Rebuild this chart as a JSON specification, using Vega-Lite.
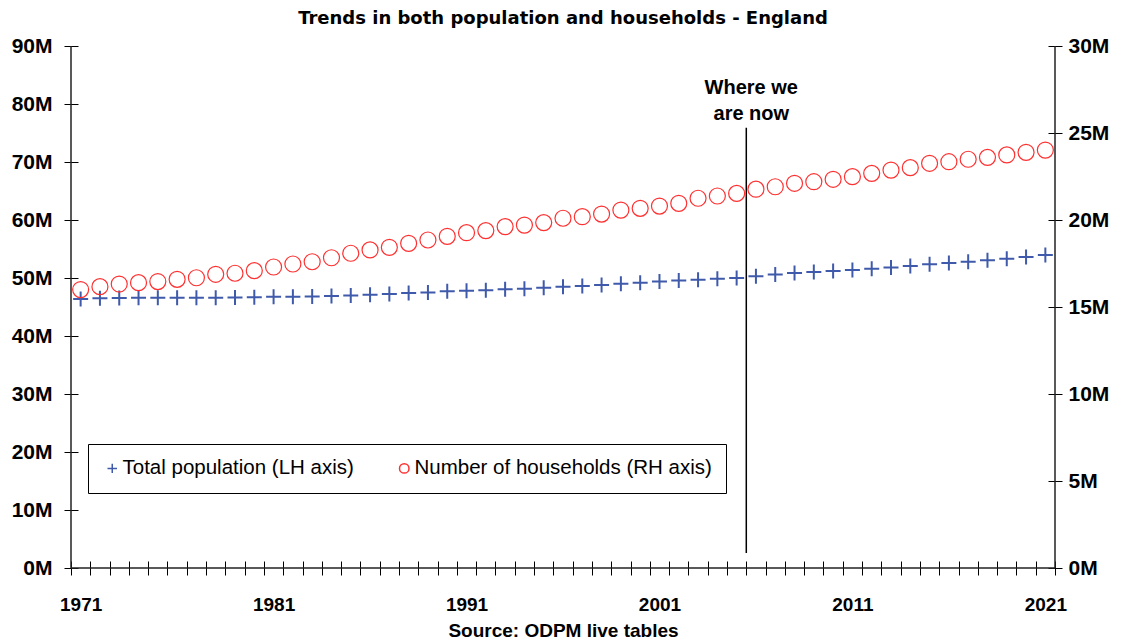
{
  "$schema": "https://vega.github.io/schema/vega-lite/v6.json",
  "width": 984,
  "height": 522,
  "autosize": "none",
  "padding": {"left": 71, "top": 46, "right": 66, "bottom": 72},
  "background": "white",
  "config": {
    "view": {"stroke": null},
    "axis": {
      "labelFont": "Liberation Sans",
      "labelFontWeight": "bold",
      "labelFontSize": 19,
      "labelColor": "black",
      "tickColor": "black",
      "tickWidth": 1,
      "grid": false
    }
  },
  "title": {
    "text": "Trends in both population and households - England",
    "font": "DejaVu Sans",
    "fontSize": 18,
    "fontWeight": "bold",
    "color": "black",
    "anchor": "middle",
    "offset": 7
  },
  "data": {
    "values": [
      {"year": 1971, "series": "Total population (LH axis)", "value": 46.4},
      {"year": 1972, "series": "Total population (LH axis)", "value": 46.5},
      {"year": 1973, "series": "Total population (LH axis)", "value": 46.55},
      {"year": 1974, "series": "Total population (LH axis)", "value": 46.6},
      {"year": 1975, "series": "Total population (LH axis)", "value": 46.6},
      {"year": 1976, "series": "Total population (LH axis)", "value": 46.6},
      {"year": 1977, "series": "Total population (LH axis)", "value": 46.6},
      {"year": 1978, "series": "Total population (LH axis)", "value": 46.6},
      {"year": 1979, "series": "Total population (LH axis)", "value": 46.65},
      {"year": 1980, "series": "Total population (LH axis)", "value": 46.7},
      {"year": 1981, "series": "Total population (LH axis)", "value": 46.75},
      {"year": 1982, "series": "Total population (LH axis)", "value": 46.75},
      {"year": 1983, "series": "Total population (LH axis)", "value": 46.8},
      {"year": 1984, "series": "Total population (LH axis)", "value": 46.9},
      {"year": 1985, "series": "Total population (LH axis)", "value": 47.0},
      {"year": 1986, "series": "Total population (LH axis)", "value": 47.1},
      {"year": 1987, "series": "Total population (LH axis)", "value": 47.25},
      {"year": 1988, "series": "Total population (LH axis)", "value": 47.4},
      {"year": 1989, "series": "Total population (LH axis)", "value": 47.5},
      {"year": 1990, "series": "Total population (LH axis)", "value": 47.7},
      {"year": 1991, "series": "Total population (LH axis)", "value": 47.8},
      {"year": 1992, "series": "Total population (LH axis)", "value": 47.9},
      {"year": 1993, "series": "Total population (LH axis)", "value": 48.05},
      {"year": 1994, "series": "Total population (LH axis)", "value": 48.15},
      {"year": 1995, "series": "Total population (LH axis)", "value": 48.3},
      {"year": 1996, "series": "Total population (LH axis)", "value": 48.5},
      {"year": 1997, "series": "Total population (LH axis)", "value": 48.6},
      {"year": 1998, "series": "Total population (LH axis)", "value": 48.8},
      {"year": 1999, "series": "Total population (LH axis)", "value": 49.0},
      {"year": 2000, "series": "Total population (LH axis)", "value": 49.2},
      {"year": 2001, "series": "Total population (LH axis)", "value": 49.4},
      {"year": 2002, "series": "Total population (LH axis)", "value": 49.55},
      {"year": 2003, "series": "Total population (LH axis)", "value": 49.7},
      {"year": 2004, "series": "Total population (LH axis)", "value": 49.85},
      {"year": 2005, "series": "Total population (LH axis)", "value": 50.0},
      {"year": 2006, "series": "Total population (LH axis)", "value": 50.3},
      {"year": 2007, "series": "Total population (LH axis)", "value": 50.6},
      {"year": 2008, "series": "Total population (LH axis)", "value": 50.85},
      {"year": 2009, "series": "Total population (LH axis)", "value": 51.05},
      {"year": 2010, "series": "Total population (LH axis)", "value": 51.2},
      {"year": 2011, "series": "Total population (LH axis)", "value": 51.4},
      {"year": 2012, "series": "Total population (LH axis)", "value": 51.6},
      {"year": 2013, "series": "Total population (LH axis)", "value": 51.8},
      {"year": 2014, "series": "Total population (LH axis)", "value": 52.05},
      {"year": 2015, "series": "Total population (LH axis)", "value": 52.35},
      {"year": 2016, "series": "Total population (LH axis)", "value": 52.6},
      {"year": 2017, "series": "Total population (LH axis)", "value": 52.8},
      {"year": 2018, "series": "Total population (LH axis)", "value": 53.05},
      {"year": 2019, "series": "Total population (LH axis)", "value": 53.3},
      {"year": 2020, "series": "Total population (LH axis)", "value": 53.6},
      {"year": 2021, "series": "Total population (LH axis)", "value": 53.95},
      {"year": 1971, "series": "Number of households (RH axis)", "value": 16.0},
      {"year": 1972, "series": "Number of households (RH axis)", "value": 16.17},
      {"year": 1973, "series": "Number of households (RH axis)", "value": 16.32},
      {"year": 1974, "series": "Number of households (RH axis)", "value": 16.4},
      {"year": 1975, "series": "Number of households (RH axis)", "value": 16.46},
      {"year": 1976, "series": "Number of households (RH axis)", "value": 16.59},
      {"year": 1977, "series": "Number of households (RH axis)", "value": 16.68},
      {"year": 1978, "series": "Number of households (RH axis)", "value": 16.88},
      {"year": 1979, "series": "Number of households (RH axis)", "value": 16.94},
      {"year": 1980, "series": "Number of households (RH axis)", "value": 17.09},
      {"year": 1981, "series": "Number of households (RH axis)", "value": 17.3},
      {"year": 1982, "series": "Number of households (RH axis)", "value": 17.47},
      {"year": 1983, "series": "Number of households (RH axis)", "value": 17.6},
      {"year": 1984, "series": "Number of households (RH axis)", "value": 17.83},
      {"year": 1985, "series": "Number of households (RH axis)", "value": 18.09},
      {"year": 1986, "series": "Number of households (RH axis)", "value": 18.28},
      {"year": 1987, "series": "Number of households (RH axis)", "value": 18.43},
      {"year": 1988, "series": "Number of households (RH axis)", "value": 18.66},
      {"year": 1989, "series": "Number of households (RH axis)", "value": 18.85},
      {"year": 1990, "series": "Number of households (RH axis)", "value": 19.06},
      {"year": 1991, "series": "Number of households (RH axis)", "value": 19.27},
      {"year": 1992, "series": "Number of households (RH axis)", "value": 19.39},
      {"year": 1993, "series": "Number of households (RH axis)", "value": 19.62},
      {"year": 1994, "series": "Number of households (RH axis)", "value": 19.71},
      {"year": 1995, "series": "Number of households (RH axis)", "value": 19.85},
      {"year": 1996, "series": "Number of households (RH axis)", "value": 20.1},
      {"year": 1997, "series": "Number of households (RH axis)", "value": 20.19},
      {"year": 1998, "series": "Number of households (RH axis)", "value": 20.34},
      {"year": 1999, "series": "Number of households (RH axis)", "value": 20.57},
      {"year": 2000, "series": "Number of households (RH axis)", "value": 20.67},
      {"year": 2001, "series": "Number of households (RH axis)", "value": 20.8},
      {"year": 2002, "series": "Number of households (RH axis)", "value": 20.96},
      {"year": 2003, "series": "Number of households (RH axis)", "value": 21.25},
      {"year": 2004, "series": "Number of households (RH axis)", "value": 21.38},
      {"year": 2005, "series": "Number of households (RH axis)", "value": 21.53},
      {"year": 2006, "series": "Number of households (RH axis)", "value": 21.77},
      {"year": 2007, "series": "Number of households (RH axis)", "value": 21.91},
      {"year": 2008, "series": "Number of households (RH axis)", "value": 22.11},
      {"year": 2009, "series": "Number of households (RH axis)", "value": 22.2},
      {"year": 2010, "series": "Number of households (RH axis)", "value": 22.34},
      {"year": 2011, "series": "Number of households (RH axis)", "value": 22.49},
      {"year": 2012, "series": "Number of households (RH axis)", "value": 22.68},
      {"year": 2013, "series": "Number of households (RH axis)", "value": 22.87},
      {"year": 2014, "series": "Number of households (RH axis)", "value": 23.01},
      {"year": 2015, "series": "Number of households (RH axis)", "value": 23.26},
      {"year": 2016, "series": "Number of households (RH axis)", "value": 23.35},
      {"year": 2017, "series": "Number of households (RH axis)", "value": 23.49},
      {"year": 2018, "series": "Number of households (RH axis)", "value": 23.6},
      {"year": 2019, "series": "Number of households (RH axis)", "value": 23.74},
      {"year": 2020, "series": "Number of households (RH axis)", "value": 23.89},
      {"year": 2021, "series": "Number of households (RH axis)", "value": 24.02}
    ]
  },
  "layer": [
    {
      "layer": [
        {
          "transform": [{"filter": "datum.series === 'Total population (LH axis)'"}],
          "mark": {"type": "point", "filled": false, "strokeWidth": 2, "opacity": 1},
          "encoding": {
            "x": {
              "field": "year",
              "type": "quantitative",
              "scale": {"domain": [1970.5, 2021.5], "nice": false, "zero": false},
              "axis": {
                "values": [1970.5, 1971.5, 1972.5, 1973.5, 1974.5, 1975.5, 1976.5, 1977.5, 1978.5, 1979.5, 1980.5, 1981.5, 1982.5, 1983.5, 1984.5, 1985.5, 1986.5, 1987.5, 1988.5, 1989.5, 1990.5, 1991.5, 1992.5, 1993.5, 1994.5, 1995.5, 1996.5, 1997.5, 1998.5, 1999.5, 2000.5, 2001.5, 2002.5, 2003.5, 2004.5, 2005.5, 2006.5, 2007.5, 2008.5, 2009.5, 2010.5, 2011.5, 2012.5, 2013.5, 2014.5, 2015.5, 2016.5, 2017.5, 2018.5, 2019.5, 2020.5, 2021.5],
                "tickCount": 200,
                "labelExpr": "(datum.value - 0.5) % 10 == 0 ? toString(datum.value + 0.5) : ''",
                "labelOffset": 9.65,
                "labelFlush": false,
                "labelOverlap": false,
                "labelBound": false,
                "tickSize": 14,
                "offset": -7,
                "domain": false,
                "labelPadding": 20,
                "title": "Source: ODPM live tables",
                "titleFont": "Liberation Sans",
                "titleFontSize": 19,
                "titleFontWeight": "bold",
                "titleColor": "black",
                "titlePadding": 7
              }
            },
            "y": {
              "field": "value",
              "type": "quantitative",
              "scale": {"domain": [0, 90], "nice": false},
              "axis": {
                "orient": "left",
                "values": [0, 10, 20, 30, 40, 50, 60, 70, 80, 90],
                "tickCount": 100,
                "labelExpr": "datum.value + 'M'",
                "labelFontSize": 21,
                "tickSize": 14,
                "offset": -7,
                "domain": false,
                "labelPadding": 12,
                "labelFlush": false,
                "title": null
              }
            },
            "color": {
              "field": "series",
              "type": "nominal",
              "scale": {"domain": ["Total population (LH axis)", "Number of households (RH axis)"], "range": ["#3F5AAA", "#FF3030"]},
              "legend": {
                "orient": "none",
                "legendX": 17,
                "legendY": 398,
                "direction": "horizontal",
                "title": null,
                "strokeColor": "black",
                "padding": 14,
                "columnPadding": 40,
                "labelFont": "Liberation Sans",
                "labelFontSize": 20.5,
                "labelLimit": 500,
                "labelColor": "black",
                "labelOffset": 0,
                "symbolSize": 90,
                "symbolStrokeWidth": 1.5,
                "fillColor": "white"
              }
            },
            "shape": {
              "field": "series",
              "type": "nominal",
              "scale": {"domain": ["Total population (LH axis)", "Number of households (RH axis)"], "range": ["M-1,0H1M0,-1V1", "circle"]}
            },
            "size": {"value": 225}
          }
        },
        {
          "data": {"values": [{}]},
          "mark": {"type": "rule", "color": "black", "strokeWidth": 1.5},
          "encoding": {
            "x": {"datum": 2005.5, "type": "quantitative"},
            "y": {"datum": 2.6, "type": "quantitative"},
            "y2": {"datum": 75.9}
          }
        },
        {
          "data": {"values": [{}]},
          "mark": {"type": "text", "font": "Liberation Sans", "fontSize": 20, "fontWeight": "bold", "color": "black", "baseline": "middle", "align": "center", "lineHeight": 26, "dx": 5},
          "encoding": {
            "x": {"datum": 2005.5, "type": "quantitative"},
            "y": {"datum": 82.7, "type": "quantitative"},
            "text": {"value": ["Where we", "are now"]}
          }
        },
        {
          "data": {"values": [{}]},
          "mark": {"type": "rule", "color": "#222222", "strokeWidth": 1.5},
          "encoding": {"x": {"datum": 1970.5, "type": "quantitative"}}
        },
        {
          "data": {"values": [{}]},
          "mark": {"type": "rule", "color": "#222222", "strokeWidth": 1.5},
          "encoding": {"x": {"datum": 2021.5, "type": "quantitative"}}
        },
        {
          "data": {"values": [{}]},
          "mark": {"type": "rule", "color": "#222222", "strokeWidth": 1.5},
          "encoding": {"y": {"datum": 0, "type": "quantitative"}}
        }
      ]
    },
    {
      "transform": [{"filter": "datum.series === 'Number of households (RH axis)'"}],
      "mark": {"type": "point", "filled": false, "strokeWidth": 1.2, "opacity": 1},
      "encoding": {
        "x": {"field": "year", "type": "quantitative"},
        "y": {
          "field": "value",
          "type": "quantitative",
          "scale": {"domain": [0, 30], "nice": false},
          "axis": {
            "orient": "right",
            "values": [0, 5, 10, 15, 20, 25, 30],
            "tickCount": 100,
            "labelExpr": "datum.value + 'M'",
            "labelFontSize": 21,
            "tickSize": 14,
            "offset": -7,
            "domain": false,
            "labelPadding": 6,
            "labelFlush": false,
            "title": null
          }
        },
        "color": {
          "field": "series",
          "type": "nominal",
          "scale": {"domain": ["Total population (LH axis)", "Number of households (RH axis)"], "range": ["#3F5AAA", "#FF3030"]}
        },
        "shape": {
          "field": "series",
          "type": "nominal",
          "scale": {"domain": ["Total population (LH axis)", "Number of households (RH axis)"], "range": ["M-1,0H1M0,-1V1", "circle"]}
        },
        "size": {"value": 256}
      }
    }
  ],
  "resolve": {"scale": {"y": "independent"}, "axis": {"y": "independent"}}
}
